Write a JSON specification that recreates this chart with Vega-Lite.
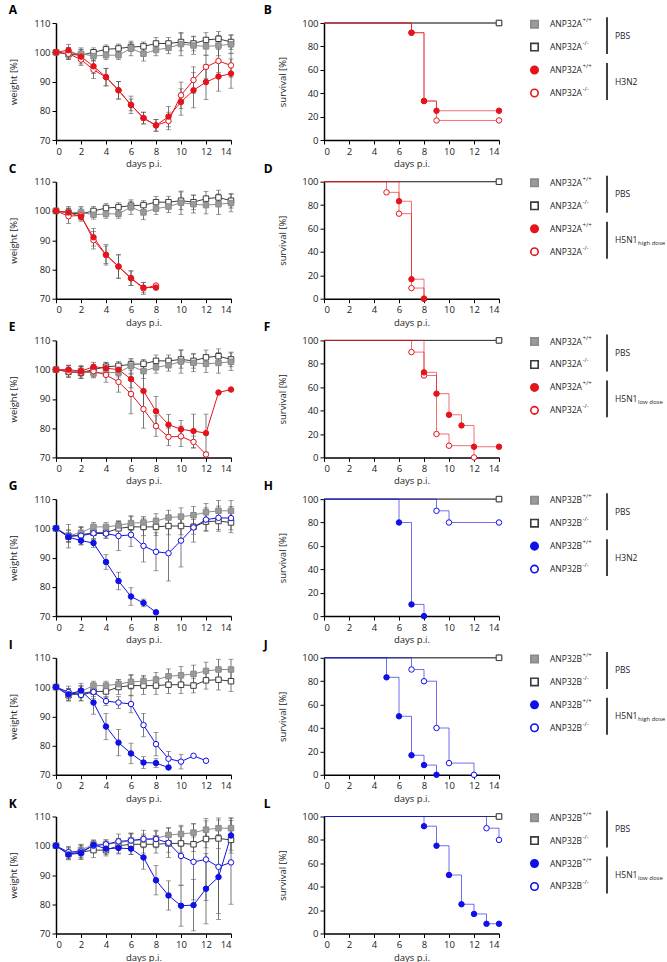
{
"$schema":"https://vega.github.io/schema/vega-lite/v6.json",
"background":"white",
"padding":{"left":8,"top":2,"right":0,"bottom":0},
"spacing":-7.3,
"config":{
 "view":{"stroke":null},
 "font":"Open Sans",
 "text":{"font":"Open Sans"},
 "axis":{"grid":false,"domainColor":"#000","domainWidth":1.5,"tickColor":"#000","tickWidth":1,"tickSize":4,"labelFont":"Open Sans","labelFontSize":9.5,"labelColor":"#222","labelPadding":2,"titleFont":"Open Sans","titleFontSize":9.5,"titleFontWeight":"normal","titleColor":"#222","titlePadding":3},
 "title":{"fontSize":12,"fontWeight":"bold","anchor":"start","frame":"bounds","offset":1,"color":"#000","font":"Open Sans"}
},
"datasets":{
"wt":[
{"p":"pa","s":"pk","d":0,"w":100,"e":0},{"p":"pa","s":"pk","d":1,"w":99.3,"e":1.5},{"p":"pa","s":"pk","d":2,"w":99,"e":2},{"p":"pa","s":"pk","d":3,"w":100,"e":1.5},{"p":"pa","s":"pk","d":4,"w":101,"e":1.5},{"p":"pa","s":"pk","d":5,"w":101.3,"e":1.5},{"p":"pa","s":"pk","d":6,"w":101.8,"e":1.5},{"p":"pa","s":"pk","d":7,"w":102,"e":1.5},{"p":"pa","s":"pk","d":8,"w":103,"e":2},{"p":"pa","s":"pk","d":9,"w":103,"e":2},{"p":"pa","s":"pk","d":10,"w":103.5,"e":3},{"p":"pa","s":"pk","d":11,"w":103,"e":2.5},{"p":"pa","s":"pk","d":12,"w":104.2,"e":2.5},{"p":"pa","s":"pk","d":13,"w":104.6,"e":2.5},{"p":"pa","s":"pk","d":14,"w":103.5,"e":2.5},
{"p":"pa","s":"pw","d":0,"w":100,"e":0},{"p":"pa","s":"pw","d":1,"w":99.5,"e":2},{"p":"pa","s":"pw","d":2,"w":99.5,"e":2},{"p":"pa","s":"pw","d":3,"w":98.7,"e":1.5},{"p":"pa","s":"pw","d":4,"w":99,"e":1.5},{"p":"pa","s":"pw","d":5,"w":99,"e":1.5},{"p":"pa","s":"pw","d":6,"w":101.3,"e":2.5},{"p":"pa","s":"pw","d":7,"w":99.5,"e":2.5},{"p":"pa","s":"pw","d":8,"w":100.8,"e":2},{"p":"pa","s":"pw","d":9,"w":101.5,"e":2},{"p":"pa","s":"pw","d":10,"w":102.8,"e":4},{"p":"pa","s":"pw","d":11,"w":102.3,"e":3},{"p":"pa","s":"pw","d":12,"w":102,"e":3},{"p":"pa","s":"pw","d":13,"w":102.3,"e":3.5},{"p":"pa","s":"pw","d":14,"w":102.7,"e":3},
{"p":"pb","s":"pk","d":0,"w":100,"e":0},{"p":"pb","s":"pk","d":1,"w":97.2,"e":2},{"p":"pb","s":"pk","d":2,"w":97.8,"e":2.5},{"p":"pb","s":"pk","d":3,"w":98.5,"e":2.5},{"p":"pb","s":"pk","d":4,"w":98.5,"e":2},{"p":"pb","s":"pk","d":5,"w":100,"e":2.5},{"p":"pb","s":"pk","d":6,"w":100.5,"e":3.5},{"p":"pb","s":"pk","d":7,"w":100.5,"e":3},{"p":"pb","s":"pk","d":8,"w":100.5,"e":3},{"p":"pb","s":"pk","d":9,"w":100.8,"e":3},{"p":"pb","s":"pk","d":10,"w":100.8,"e":3},{"p":"pb","s":"pk","d":11,"w":100.5,"e":2.5},{"p":"pb","s":"pk","d":12,"w":102.3,"e":3},{"p":"pb","s":"pk","d":13,"w":102.5,"e":3.5},{"p":"pb","s":"pk","d":14,"w":102,"e":3.5},
{"p":"pb","s":"pw","d":0,"w":100,"e":0},{"p":"pb","s":"pw","d":1,"w":97.5,"e":2},{"p":"pb","s":"pw","d":2,"w":98.5,"e":2},{"p":"pb","s":"pw","d":3,"w":100.5,"e":1.5},{"p":"pb","s":"pw","d":4,"w":100.5,"e":1.5},{"p":"pb","s":"pw","d":5,"w":101,"e":1.5},{"p":"pb","s":"pw","d":6,"w":101.8,"e":2.5},{"p":"pb","s":"pw","d":7,"w":102,"e":2},{"p":"pb","s":"pw","d":8,"w":102.5,"e":2.5},{"p":"pb","s":"pw","d":9,"w":103.7,"e":2.5},{"p":"pb","s":"pw","d":10,"w":104,"e":3},{"p":"pb","s":"pw","d":11,"w":104.5,"e":3},{"p":"pb","s":"pw","d":12,"w":105.5,"e":3},{"p":"pb","s":"pw","d":13,"w":106,"e":3.5},{"p":"pb","s":"pw","d":14,"w":106,"e":3.5},
{"p":"A","s":"ak","d":0,"w":100,"e":0},{"p":"A","s":"ak","d":1,"w":99.5,"e":2},{"p":"A","s":"ak","d":2,"w":97.5,"e":2},{"p":"A","s":"ak","d":3,"w":94,"e":3},{"p":"A","s":"ak","d":4,"w":91.5,"e":3},{"p":"A","s":"ak","d":5,"w":87,"e":3},{"p":"A","s":"ak","d":6,"w":82,"e":2},{"p":"A","s":"ak","d":7,"w":77.5,"e":2},{"p":"A","s":"ak","d":8,"w":75,"e":2},{"p":"A","s":"ak","d":9,"w":76.5,"e":3},{"p":"A","s":"ak","d":10,"w":85.3,"e":4.5},{"p":"A","s":"ak","d":11,"w":90.5,"e":4.5},{"p":"A","s":"ak","d":12,"w":95,"e":4},{"p":"A","s":"ak","d":13,"w":97,"e":4},{"p":"A","s":"ak","d":14,"w":95.5,"e":4},
{"p":"A","s":"aw","d":0,"w":100,"e":0},{"p":"A","s":"aw","d":1,"w":100.7,"e":2},{"p":"A","s":"aw","d":2,"w":98.5,"e":2.5},{"p":"A","s":"aw","d":3,"w":95.2,"e":2.5},{"p":"A","s":"aw","d":4,"w":91.5,"e":3},{"p":"A","s":"aw","d":5,"w":87,"e":3},{"p":"A","s":"aw","d":6,"w":82,"e":3},{"p":"A","s":"aw","d":7,"w":77.5,"e":2},{"p":"A","s":"aw","d":8,"w":75,"e":2},{"p":"A","s":"aw","d":9,"w":78,"e":3.5},{"p":"A","s":"aw","d":10,"w":83,"e":4.5},{"p":"A","s":"aw","d":11,"w":87,"e":6},{"p":"A","s":"aw","d":12,"w":89.8,"e":6},{"p":"A","s":"aw","d":13,"w":91.7,"e":5},{"p":"A","s":"aw","d":14,"w":92.7,"e":5},
{"p":"C","s":"ak","d":0,"w":100,"e":0},{"p":"C","s":"ak","d":1,"w":98.2,"e":2.5},{"p":"C","s":"ak","d":2,"w":98.5,"e":1.5},{"p":"C","s":"ak","d":3,"w":90,"e":3},{"p":"C","s":"ak","d":4,"w":85,"e":3},{"p":"C","s":"ak","d":5,"w":81,"e":4},{"p":"C","s":"ak","d":6,"w":77,"e":2.5},{"p":"C","s":"ak","d":7,"w":73.5,"e":2},{"p":"C","s":"ak","d":8,"w":74.5,"e":0},
{"p":"C","s":"aw","d":0,"w":100,"e":0},{"p":"C","s":"aw","d":1,"w":99.5,"e":1.5},{"p":"C","s":"aw","d":2,"w":98,"e":1.5},{"p":"C","s":"aw","d":3,"w":91,"e":3},{"p":"C","s":"aw","d":4,"w":85,"e":3.5},{"p":"C","s":"aw","d":5,"w":81,"e":4},{"p":"C","s":"aw","d":6,"w":77,"e":2.5},{"p":"C","s":"aw","d":7,"w":73.8,"e":1.8},{"p":"C","s":"aw","d":8,"w":73.8,"e":0.8},
{"p":"E","s":"ak","d":0,"w":100,"e":0},{"p":"E","s":"ak","d":1,"w":99.3,"e":2},{"p":"E","s":"ak","d":2,"w":99,"e":2},{"p":"E","s":"ak","d":3,"w":99.5,"e":2},{"p":"E","s":"ak","d":4,"w":98.2,"e":2.5},{"p":"E","s":"ak","d":5,"w":95.8,"e":3.5},{"p":"E","s":"ak","d":6,"w":91.7,"e":6.8},{"p":"E","s":"ak","d":7,"w":86.5,"e":6.5},{"p":"E","s":"ak","d":8,"w":80.7,"e":3.5},{"p":"E","s":"ak","d":9,"w":77,"e":3},{"p":"E","s":"ak","d":10,"w":77.2,"e":3.5},{"p":"E","s":"ak","d":11,"w":75.3,"e":2},{"p":"E","s":"ak","d":12,"w":71,"e":0.5},
{"p":"E","s":"aw","d":0,"w":100,"e":0},{"p":"E","s":"aw","d":1,"w":100,"e":1.5},{"p":"E","s":"aw","d":2,"w":99.5,"e":1.5},{"p":"E","s":"aw","d":3,"w":101,"e":1.5},{"p":"E","s":"aw","d":4,"w":100.5,"e":2},{"p":"E","s":"aw","d":5,"w":100,"e":2},{"p":"E","s":"aw","d":6,"w":96.8,"e":3},{"p":"E","s":"aw","d":7,"w":92.7,"e":6},{"p":"E","s":"aw","d":8,"w":85.8,"e":5},{"p":"E","s":"aw","d":9,"w":81.2,"e":3.5},{"p":"E","s":"aw","d":10,"w":79.6,"e":3},{"p":"E","s":"aw","d":11,"w":79,"e":5.8},{"p":"E","s":"aw","d":12,"w":78.3,"e":6.5},{"p":"E","s":"aw","d":13,"w":92.2,"e":0},{"p":"E","s":"aw","d":14,"w":93.2,"e":0},
{"p":"G","s":"bk","d":0,"w":100,"e":0},{"p":"G","s":"bk","d":1,"w":97.3,"e":4},{"p":"G","s":"bk","d":2,"w":97.5,"e":3},{"p":"G","s":"bk","d":3,"w":98.3,"e":2},{"p":"G","s":"bk","d":4,"w":98.2,"e":1.5},{"p":"G","s":"bk","d":5,"w":97.4,"e":5},{"p":"G","s":"bk","d":6,"w":97.8,"e":4},{"p":"G","s":"bk","d":7,"w":94,"e":5.5},{"p":"G","s":"bk","d":8,"w":92,"e":6.5},{"p":"G","s":"bk","d":9,"w":91.5,"e":9.5},{"p":"G","s":"bk","d":10,"w":95.8,"e":9},{"p":"G","s":"bk","d":11,"w":100.3,"e":5},{"p":"G","s":"bk","d":12,"w":103,"e":4},{"p":"G","s":"bk","d":13,"w":103.6,"e":4},{"p":"G","s":"bk","d":14,"w":103.5,"e":4},
{"p":"G","s":"bw","d":0,"w":100,"e":0},{"p":"G","s":"bw","d":1,"w":97,"e":1.5},{"p":"G","s":"bw","d":2,"w":95.8,"e":1.5},{"p":"G","s":"bw","d":3,"w":95,"e":1.5},{"p":"G","s":"bw","d":4,"w":88.5,"e":2.5},{"p":"G","s":"bw","d":5,"w":82,"e":3},{"p":"G","s":"bw","d":6,"w":76.7,"e":3},{"p":"G","s":"bw","d":7,"w":74.5,"e":1.3},{"p":"G","s":"bw","d":8,"w":71.3,"e":0},
{"p":"I","s":"bk","d":0,"w":100,"e":0},{"p":"I","s":"bk","d":1,"w":98.3,"e":2},{"p":"I","s":"bk","d":2,"w":97.3,"e":2},{"p":"I","s":"bk","d":3,"w":98.3,"e":1.5},{"p":"I","s":"bk","d":4,"w":95.2,"e":1.5},{"p":"I","s":"bk","d":5,"w":94.7,"e":2},{"p":"I","s":"bk","d":6,"w":94.2,"e":3},{"p":"I","s":"bk","d":7,"w":87,"e":4},{"p":"I","s":"bk","d":8,"w":80.5,"e":4},{"p":"I","s":"bk","d":9,"w":75.5,"e":2.5},{"p":"I","s":"bk","d":10,"w":74.5,"e":2.5},{"p":"I","s":"bk","d":11,"w":76.5,"e":0},{"p":"I","s":"bk","d":12,"w":74.8,"e":0},
{"p":"I","s":"bw","d":0,"w":100,"e":0},{"p":"I","s":"bw","d":1,"w":97.5,"e":2},{"p":"I","s":"bw","d":2,"w":98.8,"e":2.5},{"p":"I","s":"bw","d":3,"w":94.7,"e":4},{"p":"I","s":"bw","d":4,"w":86.5,"e":4.5},{"p":"I","s":"bw","d":5,"w":81,"e":4.5},{"p":"I","s":"bw","d":6,"w":77.3,"e":3.5},{"p":"I","s":"bw","d":7,"w":74.2,"e":2},{"p":"I","s":"bw","d":8,"w":74,"e":1.5},{"p":"I","s":"bw","d":9,"w":72.5,"e":0},
{"p":"K","s":"bk","d":0,"w":100,"e":0},{"p":"K","s":"bk","d":1,"w":97.8,"e":2},{"p":"K","s":"bk","d":2,"w":98,"e":2},{"p":"K","s":"bk","d":3,"w":100,"e":1.5},{"p":"K","s":"bk","d":4,"w":100.5,"e":1.5},{"p":"K","s":"bk","d":5,"w":101.5,"e":2.5},{"p":"K","s":"bk","d":6,"w":101.8,"e":2.5},{"p":"K","s":"bk","d":7,"w":102.3,"e":3},{"p":"K","s":"bk","d":8,"w":102.3,"e":3},{"p":"K","s":"bk","d":9,"w":101,"e":5},{"p":"K","s":"bk","d":10,"w":96.5,"e":10},{"p":"K","s":"bk","d":11,"w":94.5,"e":13},{"p":"K","s":"bk","d":12,"w":95.3,"e":14},{"p":"K","s":"bk","d":13,"w":92.8,"e":16},{"p":"K","s":"bk","d":14,"w":94.3,"e":14.3},
{"p":"K","s":"bw","d":0,"w":100,"e":0},{"p":"K","s":"bw","d":1,"w":97,"e":1.5},{"p":"K","s":"bw","d":2,"w":97.5,"e":2},{"p":"K","s":"bw","d":3,"w":100.3,"e":1.5},{"p":"K","s":"bw","d":4,"w":99,"e":2},{"p":"K","s":"bw","d":5,"w":99.2,"e":2},{"p":"K","s":"bw","d":6,"w":99,"e":2},{"p":"K","s":"bw","d":7,"w":96,"e":4},{"p":"K","s":"bw","d":8,"w":88.2,"e":5},{"p":"K","s":"bw","d":9,"w":83,"e":5},{"p":"K","s":"bw","d":10,"w":79.5,"e":7},{"p":"K","s":"bw","d":11,"w":79.7,"e":8.8},{"p":"K","s":"bw","d":12,"w":85.3,"e":12},{"p":"K","s":"bw","d":13,"w":89.3,"e":14.5},{"p":"K","s":"bw","d":14,"w":103.5,"e":6}
],
"sv":[
{"p":"ps","s":"pw","d":0,"v":100},{"p":"ps","s":"pw","d":14,"v":100},{"p":"ps","s":"pk","d":0,"v":100},{"p":"ps","s":"pk","d":14,"v":100},
{"p":"B","s":"ak","d":0,"v":100},{"p":"B","s":"ak","d":7,"v":91.7},{"p":"B","s":"ak","d":8,"v":33.3},{"p":"B","s":"ak","d":9,"v":16.7},{"p":"B","s":"ak","d":14,"v":16.7},
{"p":"B","s":"aw","d":0,"v":100},{"p":"B","s":"aw","d":7,"v":91.7},{"p":"B","s":"aw","d":8,"v":33.3},{"p":"B","s":"aw","d":9,"v":25},{"p":"B","s":"aw","d":14,"v":25},
{"p":"D","s":"ak","d":0,"v":100},{"p":"D","s":"ak","d":5,"v":90.9},{"p":"D","s":"ak","d":6,"v":72.7},{"p":"D","s":"ak","d":7,"v":9.1},{"p":"D","s":"ak","d":8,"v":0},
{"p":"D","s":"aw","d":0,"v":100},{"p":"D","s":"aw","d":6,"v":83.3},{"p":"D","s":"aw","d":7,"v":16.7},{"p":"D","s":"aw","d":8,"v":0},
{"p":"F","s":"ak","d":0,"v":100},{"p":"F","s":"ak","d":7,"v":90},{"p":"F","s":"ak","d":8,"v":70},{"p":"F","s":"ak","d":9,"v":20},{"p":"F","s":"ak","d":10,"v":10},{"p":"F","s":"ak","d":12,"v":0},
{"p":"F","s":"aw","d":0,"v":100},{"p":"F","s":"aw","d":8,"v":72.7},{"p":"F","s":"aw","d":9,"v":54.5},{"p":"F","s":"aw","d":10,"v":36.4},{"p":"F","s":"aw","d":11,"v":27.3},{"p":"F","s":"aw","d":12,"v":9.1},{"p":"F","s":"aw","d":14,"v":9.1},
{"p":"H","s":"bk","d":0,"v":100},{"p":"H","s":"bk","d":9,"v":90},{"p":"H","s":"bk","d":10,"v":80},{"p":"H","s":"bk","d":14,"v":80},
{"p":"H","s":"bw","d":0,"v":100},{"p":"H","s":"bw","d":6,"v":80},{"p":"H","s":"bw","d":7,"v":10},{"p":"H","s":"bw","d":8,"v":0},
{"p":"J","s":"bk","d":0,"v":100},{"p":"J","s":"bk","d":7,"v":90},{"p":"J","s":"bk","d":8,"v":80},{"p":"J","s":"bk","d":9,"v":40},{"p":"J","s":"bk","d":10,"v":10},{"p":"J","s":"bk","d":12,"v":0},
{"p":"J","s":"bw","d":0,"v":100},{"p":"J","s":"bw","d":5,"v":83.3},{"p":"J","s":"bw","d":6,"v":50},{"p":"J","s":"bw","d":7,"v":16.7},{"p":"J","s":"bw","d":8,"v":8.3},{"p":"J","s":"bw","d":9,"v":0},
{"p":"L","s":"bk","d":0,"v":100},{"p":"L","s":"bk","d":13,"v":90},{"p":"L","s":"bk","d":14,"v":80},
{"p":"L","s":"bw","d":0,"v":100},{"p":"L","s":"bw","d":8,"v":91.7},{"p":"L","s":"bw","d":9,"v":75},{"p":"L","s":"bw","d":10,"v":50},{"p":"L","s":"bw","d":11,"v":25},{"p":"L","s":"bw","d":12,"v":16.7},{"p":"L","s":"bw","d":13,"v":8.3},{"p":"L","s":"bw","d":14,"v":8.3}
],
"lg":[
{"p":"A","r":0,"s":"pw","g":"ANP32A","u":"+/+"},{"p":"A","r":1,"s":"pk","g":"ANP32A","u":"-/-"},{"p":"A","r":2,"s":"aw","g":"ANP32A","u":"+/+"},{"p":"A","r":3,"s":"ak","g":"ANP32A","u":"-/-"},
{"p":"C","r":0,"s":"pw","g":"ANP32A","u":"+/+"},{"p":"C","r":1,"s":"pk","g":"ANP32A","u":"-/-"},{"p":"C","r":2,"s":"aw","g":"ANP32A","u":"+/+"},{"p":"C","r":3,"s":"ak","g":"ANP32A","u":"-/-"},
{"p":"E","r":0,"s":"pw","g":"ANP32A","u":"+/+"},{"p":"E","r":1,"s":"pk","g":"ANP32A","u":"-/-"},{"p":"E","r":2,"s":"aw","g":"ANP32A","u":"+/+"},{"p":"E","r":3,"s":"ak","g":"ANP32A","u":"-/-"},
{"p":"G","r":0,"s":"pw","g":"ANP32B","u":"+/+"},{"p":"G","r":1,"s":"pk","g":"ANP32B","u":"-/-"},{"p":"G","r":2,"s":"bw","g":"ANP32B","u":"+/+"},{"p":"G","r":3,"s":"bk","g":"ANP32B","u":"-/-"},
{"p":"I","r":0,"s":"pw","g":"ANP32B","u":"+/+"},{"p":"I","r":1,"s":"pk","g":"ANP32B","u":"-/-"},{"p":"I","r":2,"s":"bw","g":"ANP32B","u":"+/+"},{"p":"I","r":3,"s":"bk","g":"ANP32B","u":"-/-"},
{"p":"K","r":0,"s":"pw","g":"ANP32B","u":"+/+"},{"p":"K","r":1,"s":"pk","g":"ANP32B","u":"-/-"},{"p":"K","r":2,"s":"bw","g":"ANP32B","u":"+/+"},{"p":"K","r":3,"s":"bk","g":"ANP32B","u":"-/-"}
],
"gp":[
{"p":"A","f":0,"l":1,"t":"PBS","u":""},{"p":"A","f":2,"l":3,"t":"H3N2","u":""},
{"p":"C","f":0,"l":1,"t":"PBS","u":""},{"p":"C","f":2,"l":3,"t":"H5N1","u":"high dose"},
{"p":"E","f":0,"l":1,"t":"PBS","u":""},{"p":"E","f":2,"l":3,"t":"H5N1","u":"low dose"},
{"p":"G","f":0,"l":1,"t":"PBS","u":""},{"p":"G","f":2,"l":3,"t":"H3N2","u":""},
{"p":"I","f":0,"l":1,"t":"PBS","u":""},{"p":"I","f":2,"l":3,"t":"H5N1","u":"high dose"},
{"p":"K","f":0,"l":1,"t":"PBS","u":""},{"p":"K","f":2,"l":3,"t":"H5N1","u":"low dose"}
]
},
"vconcat":[
{"spacing":27,"hconcat":[
 {"title":{"text":"A"},"width":175,"height":117,"data":{"name":"wt"},"transform":[{"filter":"datum.p==='A'||datum.p==='pa'"}],
  "encoding":{"x":{"field":"d","type":"quantitative","scale":{"domain":[0,14],"nice":false},"axis":{"values":[0,2,4,6,8,10,12,14],"title":"days p.i."}},"y":{"field":"w","type":"quantitative","scale":{"domain":[70,110],"nice":false,"zero":false},"axis":{"values":[70,80,90,100,110],"title":"weight [%]","titlePadding":15}}},
  "layer":[
   {"transform":[{"filter":"datum.e>0"}],"mark":{"type":"errorbar","ticks":{"size":5},"color":"#555","thickness":0.8},"encoding":{"yError":{"field":"e"}}},
   {"mark":{"type":"line","strokeWidth":1},"encoding":{"color":{"field":"s","type":"nominal","scale":{"domain":["pw","pk","aw","ak","bw","bk"],"range":["#8a8a8a","#3a3a3a","#e5141c","#e5141c","#1010e8","#1010e8"]},"legend":null}}},
   {"mark":{"type":"point","size":30,"opacity":1,"strokeWidth":1},"encoding":{"color":{"field":"s","type":"nominal","legend":null},"fill":{"field":"s","type":"nominal","scale":{"domain":["pw","pk","aw","ak","bw","bk"],"range":["#9a9a9a","#ffffff","#e5141c","#ffffff","#1010e8","#ffffff"]},"legend":null},"shape":{"field":"s","type":"nominal","scale":{"domain":["pw","pk","aw","ak","bw","bk"],"range":["square","square","circle","circle","circle","circle"]},"legend":null}}}
  ]},
 {"spacing":23,"hconcat":[
  {"title":{"text":"B","dx":-14},"width":175,"height":117,"data":{"name":"sv"},"transform":[{"filter":"datum.p==='B'||datum.p==='ps'"}],
   "encoding":{"x":{"field":"d","type":"quantitative","scale":{"domain":[0,14],"nice":false},"axis":{"values":[0,2,4,6,8,10,12,14],"title":"days p.i."}},"y":{"field":"v","type":"quantitative","scale":{"domain":[0,100],"nice":false},"axis":{"values":[0,20,40,60,80,100],"title":"survival [%]","titlePadding":14}},"color":{"field":"s","type":"nominal","legend":null}},
   "layer":[
    {"transform":[{"filter":"datum.p==='ps'"}],"mark":{"type":"line","interpolate":"step-after","strokeWidth":1}},
    {"transform":[{"filter":"datum.p!=='ps'"}],"mark":{"type":"line","interpolate":"step-after","strokeWidth":1,"opacity":0.6}},
    {"transform":[{"filter":"datum.d>0"}],"mark":{"type":"point","size":30,"opacity":1,"strokeWidth":1},"encoding":{"fill":{"field":"s","type":"nominal","legend":null},"shape":{"field":"s","type":"nominal","legend":null}}}
   ]},
  {"title":{"text":" "},"width":137,"height":117,
   "layer":[
    {"data":{"name":"lg"},"transform":[{"filter":"datum.p==='A'"}],"mark":{"type":"point","size":55,"opacity":1,"strokeWidth":1.6},"encoding":{"x":{"datum":0.55,"type":"quantitative","scale":{"domain":[0,13.7],"nice":false},"axis":null},"y":{"field":"r","type":"quantitative","scale":{"domain":[-0.05,5.05],"reverse":true,"nice":false,"zero":false},"axis":null},"color":{"field":"s","type":"nominal","legend":null},"fill":{"field":"s","type":"nominal","legend":null},"shape":{"field":"s","type":"nominal","legend":null}}},
    {"data":{"name":"lg"},"transform":[{"filter":"datum.p==='A'"}],"mark":{"type":"text","align":"left","baseline":"middle","fontSize":8.5,"color":"#222"},"encoding":{"x":{"datum":2.1,"type":"quantitative"},"y":{"field":"r","type":"quantitative"},"text":{"field":"g"}}},
    {"data":{"name":"lg"},"transform":[{"filter":"datum.p==='A'"}],"mark":{"type":"text","align":"left","baseline":"middle","fontSize":6,"color":"#222","dx":32.5,"dy":-4},"encoding":{"x":{"datum":2.1,"type":"quantitative"},"y":{"field":"r","type":"quantitative"},"text":{"field":"u"}}},
    {"data":{"name":"gp"},"transform":[{"filter":"datum.p==='A'"}],"mark":{"type":"rule","strokeWidth":1.5,"color":"#000","yOffset":-7,"y2Offset":7},"encoding":{"x":{"datum":7.8,"type":"quantitative"},"y":{"field":"f","type":"quantitative"},"y2":{"field":"l"}}},
    {"data":{"name":"gp"},"transform":[{"filter":"datum.p==='A'"}],"mark":{"type":"text","align":"left","baseline":"middle","fontSize":8.5,"color":"#222","dy":11.5},"encoding":{"x":{"datum":8.6,"type":"quantitative"},"y":{"field":"f","type":"quantitative"},"text":{"field":"t"}}},
    {"data":{"name":"gp"},"transform":[{"filter":"datum.p==='A'"}],"mark":{"type":"text","align":"left","baseline":"middle","fontSize":6,"color":"#222","dx":23,"dy":14.5},"encoding":{"x":{"datum":8.6,"type":"quantitative"},"y":{"field":"f","type":"quantitative"},"text":{"field":"u"}}}
   ]}
 ]}
]},
{"spacing":27,"hconcat":[
 {"title":{"text":"C"},"width":175,"height":117,"data":{"name":"wt"},"transform":[{"filter":"datum.p==='C'||datum.p==='pa'"}],
  "encoding":{"x":{"field":"d","type":"quantitative","scale":{"domain":[0,14],"nice":false},"axis":{"values":[0,2,4,6,8,10,12,14],"title":"days p.i."}},"y":{"field":"w","type":"quantitative","scale":{"domain":[70,110],"nice":false,"zero":false},"axis":{"values":[70,80,90,100,110],"title":"weight [%]","titlePadding":15}}},
  "layer":[
   {"transform":[{"filter":"datum.e>0"}],"mark":{"type":"errorbar","ticks":{"size":5},"color":"#555","thickness":0.8},"encoding":{"yError":{"field":"e"}}},
   {"mark":{"type":"line","strokeWidth":1},"encoding":{"color":{"field":"s","type":"nominal","legend":null}}},
   {"mark":{"type":"point","size":30,"opacity":1,"strokeWidth":1},"encoding":{"color":{"field":"s","type":"nominal","legend":null},"fill":{"field":"s","type":"nominal","legend":null},"shape":{"field":"s","type":"nominal","legend":null}}}
  ]},
 {"spacing":23,"hconcat":[
  {"title":{"text":"D","dx":-14},"width":175,"height":117,"data":{"name":"sv"},"transform":[{"filter":"datum.p==='D'||datum.p==='ps'"}],
   "encoding":{"x":{"field":"d","type":"quantitative","scale":{"domain":[0,14],"nice":false},"axis":{"values":[0,2,4,6,8,10,12,14],"title":"days p.i."}},"y":{"field":"v","type":"quantitative","scale":{"domain":[0,100],"nice":false},"axis":{"values":[0,20,40,60,80,100],"title":"survival [%]","titlePadding":14}},"color":{"field":"s","type":"nominal","legend":null}},
   "layer":[
    {"transform":[{"filter":"datum.p==='ps'"}],"mark":{"type":"line","interpolate":"step-after","strokeWidth":1}},
    {"transform":[{"filter":"datum.p!=='ps'"}],"mark":{"type":"line","interpolate":"step-after","strokeWidth":1,"opacity":0.6}},
    {"transform":[{"filter":"datum.d>0"}],"mark":{"type":"point","size":30,"opacity":1,"strokeWidth":1},"encoding":{"fill":{"field":"s","type":"nominal","legend":null},"shape":{"field":"s","type":"nominal","legend":null}}}
   ]},
  {"title":{"text":" "},"width":137,"height":117,
   "layer":[
    {"data":{"name":"lg"},"transform":[{"filter":"datum.p==='C'"}],"mark":{"type":"point","size":55,"opacity":1,"strokeWidth":1.6},"encoding":{"x":{"datum":0.55,"type":"quantitative","scale":{"domain":[0,13.7],"nice":false},"axis":null},"y":{"field":"r","type":"quantitative","scale":{"domain":[-0.05,5.05],"reverse":true,"nice":false,"zero":false},"axis":null},"color":{"field":"s","type":"nominal","legend":null},"fill":{"field":"s","type":"nominal","legend":null},"shape":{"field":"s","type":"nominal","legend":null}}},
    {"data":{"name":"lg"},"transform":[{"filter":"datum.p==='C'"}],"mark":{"type":"text","align":"left","baseline":"middle","fontSize":8.5,"color":"#222"},"encoding":{"x":{"datum":2.1,"type":"quantitative"},"y":{"field":"r","type":"quantitative"},"text":{"field":"g"}}},
    {"data":{"name":"lg"},"transform":[{"filter":"datum.p==='C'"}],"mark":{"type":"text","align":"left","baseline":"middle","fontSize":6,"color":"#222","dx":32.5,"dy":-4},"encoding":{"x":{"datum":2.1,"type":"quantitative"},"y":{"field":"r","type":"quantitative"},"text":{"field":"u"}}},
    {"data":{"name":"gp"},"transform":[{"filter":"datum.p==='C'"}],"mark":{"type":"rule","strokeWidth":1.5,"color":"#000","yOffset":-7,"y2Offset":7},"encoding":{"x":{"datum":7.8,"type":"quantitative"},"y":{"field":"f","type":"quantitative"},"y2":{"field":"l"}}},
    {"data":{"name":"gp"},"transform":[{"filter":"datum.p==='C'"}],"mark":{"type":"text","align":"left","baseline":"middle","fontSize":8.5,"color":"#222","dy":11.5},"encoding":{"x":{"datum":8.6,"type":"quantitative"},"y":{"field":"f","type":"quantitative"},"text":{"field":"t"}}},
    {"data":{"name":"gp"},"transform":[{"filter":"datum.p==='C'"}],"mark":{"type":"text","align":"left","baseline":"middle","fontSize":6,"color":"#222","dx":23,"dy":14.5},"encoding":{"x":{"datum":8.6,"type":"quantitative"},"y":{"field":"f","type":"quantitative"},"text":{"field":"u"}}}
   ]}
 ]}
]},
{"spacing":27,"hconcat":[
 {"title":{"text":"E"},"width":175,"height":117,"data":{"name":"wt"},"transform":[{"filter":"datum.p==='E'||datum.p==='pa'"}],
  "encoding":{"x":{"field":"d","type":"quantitative","scale":{"domain":[0,14],"nice":false},"axis":{"values":[0,2,4,6,8,10,12,14],"title":"days p.i."}},"y":{"field":"w","type":"quantitative","scale":{"domain":[70,110],"nice":false,"zero":false},"axis":{"values":[70,80,90,100,110],"title":"weight [%]","titlePadding":15}}},
  "layer":[
   {"transform":[{"filter":"datum.e>0"}],"mark":{"type":"errorbar","ticks":{"size":5},"color":"#555","thickness":0.8},"encoding":{"yError":{"field":"e"}}},
   {"mark":{"type":"line","strokeWidth":1},"encoding":{"color":{"field":"s","type":"nominal","legend":null}}},
   {"mark":{"type":"point","size":30,"opacity":1,"strokeWidth":1},"encoding":{"color":{"field":"s","type":"nominal","legend":null},"fill":{"field":"s","type":"nominal","legend":null},"shape":{"field":"s","type":"nominal","legend":null}}}
  ]},
 {"spacing":23,"hconcat":[
  {"title":{"text":"F","dx":-14},"width":175,"height":117,"data":{"name":"sv"},"transform":[{"filter":"datum.p==='F'||datum.p==='ps'"}],
   "encoding":{"x":{"field":"d","type":"quantitative","scale":{"domain":[0,14],"nice":false},"axis":{"values":[0,2,4,6,8,10,12,14],"title":"days p.i."}},"y":{"field":"v","type":"quantitative","scale":{"domain":[0,100],"nice":false},"axis":{"values":[0,20,40,60,80,100],"title":"survival [%]","titlePadding":14}},"color":{"field":"s","type":"nominal","legend":null}},
   "layer":[
    {"transform":[{"filter":"datum.p==='ps'"}],"mark":{"type":"line","interpolate":"step-after","strokeWidth":1}},
    {"transform":[{"filter":"datum.p!=='ps'"}],"mark":{"type":"line","interpolate":"step-after","strokeWidth":1,"opacity":0.6}},
    {"transform":[{"filter":"datum.d>0"}],"mark":{"type":"point","size":30,"opacity":1,"strokeWidth":1},"encoding":{"fill":{"field":"s","type":"nominal","legend":null},"shape":{"field":"s","type":"nominal","legend":null}}}
   ]},
  {"title":{"text":" "},"width":137,"height":117,
   "layer":[
    {"data":{"name":"lg"},"transform":[{"filter":"datum.p==='E'"}],"mark":{"type":"point","size":55,"opacity":1,"strokeWidth":1.6},"encoding":{"x":{"datum":0.55,"type":"quantitative","scale":{"domain":[0,13.7],"nice":false},"axis":null},"y":{"field":"r","type":"quantitative","scale":{"domain":[-0.05,5.05],"reverse":true,"nice":false,"zero":false},"axis":null},"color":{"field":"s","type":"nominal","legend":null},"fill":{"field":"s","type":"nominal","legend":null},"shape":{"field":"s","type":"nominal","legend":null}}},
    {"data":{"name":"lg"},"transform":[{"filter":"datum.p==='E'"}],"mark":{"type":"text","align":"left","baseline":"middle","fontSize":8.5,"color":"#222"},"encoding":{"x":{"datum":2.1,"type":"quantitative"},"y":{"field":"r","type":"quantitative"},"text":{"field":"g"}}},
    {"data":{"name":"lg"},"transform":[{"filter":"datum.p==='E'"}],"mark":{"type":"text","align":"left","baseline":"middle","fontSize":6,"color":"#222","dx":32.5,"dy":-4},"encoding":{"x":{"datum":2.1,"type":"quantitative"},"y":{"field":"r","type":"quantitative"},"text":{"field":"u"}}},
    {"data":{"name":"gp"},"transform":[{"filter":"datum.p==='E'"}],"mark":{"type":"rule","strokeWidth":1.5,"color":"#000","yOffset":-7,"y2Offset":7},"encoding":{"x":{"datum":7.8,"type":"quantitative"},"y":{"field":"f","type":"quantitative"},"y2":{"field":"l"}}},
    {"data":{"name":"gp"},"transform":[{"filter":"datum.p==='E'"}],"mark":{"type":"text","align":"left","baseline":"middle","fontSize":8.5,"color":"#222","dy":11.5},"encoding":{"x":{"datum":8.6,"type":"quantitative"},"y":{"field":"f","type":"quantitative"},"text":{"field":"t"}}},
    {"data":{"name":"gp"},"transform":[{"filter":"datum.p==='E'"}],"mark":{"type":"text","align":"left","baseline":"middle","fontSize":6,"color":"#222","dx":23,"dy":14.5},"encoding":{"x":{"datum":8.6,"type":"quantitative"},"y":{"field":"f","type":"quantitative"},"text":{"field":"u"}}}
   ]}
 ]}
]},
{"spacing":27,"hconcat":[
 {"title":{"text":"G"},"width":175,"height":117,"data":{"name":"wt"},"transform":[{"filter":"datum.p==='G'||datum.p==='pb'"}],
  "encoding":{"x":{"field":"d","type":"quantitative","scale":{"domain":[0,14],"nice":false},"axis":{"values":[0,2,4,6,8,10,12,14],"title":"days p.i."}},"y":{"field":"w","type":"quantitative","scale":{"domain":[70,110],"nice":false,"zero":false},"axis":{"values":[70,80,90,100,110],"title":"weight [%]","titlePadding":15}}},
  "layer":[
   {"transform":[{"filter":"datum.e>0"}],"mark":{"type":"errorbar","ticks":{"size":5},"color":"#555","thickness":0.8},"encoding":{"yError":{"field":"e"}}},
   {"mark":{"type":"line","strokeWidth":1},"encoding":{"color":{"field":"s","type":"nominal","legend":null}}},
   {"mark":{"type":"point","size":30,"opacity":1,"strokeWidth":1},"encoding":{"color":{"field":"s","type":"nominal","legend":null},"fill":{"field":"s","type":"nominal","legend":null},"shape":{"field":"s","type":"nominal","legend":null}}}
  ]},
 {"spacing":23,"hconcat":[
  {"title":{"text":"H","dx":-14},"width":175,"height":117,"data":{"name":"sv"},"transform":[{"filter":"datum.p==='H'||datum.p==='ps'"}],
   "encoding":{"x":{"field":"d","type":"quantitative","scale":{"domain":[0,14],"nice":false},"axis":{"values":[0,2,4,6,8,10,12,14],"title":"days p.i."}},"y":{"field":"v","type":"quantitative","scale":{"domain":[0,100],"nice":false},"axis":{"values":[0,20,40,60,80,100],"title":"survival [%]","titlePadding":14}},"color":{"field":"s","type":"nominal","legend":null}},
   "layer":[
    {"transform":[{"filter":"datum.p==='ps'"}],"mark":{"type":"line","interpolate":"step-after","strokeWidth":1}},
    {"transform":[{"filter":"datum.p!=='ps'"}],"mark":{"type":"line","interpolate":"step-after","strokeWidth":1,"opacity":0.6}},
    {"transform":[{"filter":"datum.d>0"}],"mark":{"type":"point","size":30,"opacity":1,"strokeWidth":1},"encoding":{"fill":{"field":"s","type":"nominal","legend":null},"shape":{"field":"s","type":"nominal","legend":null}}}
   ]},
  {"title":{"text":" "},"width":137,"height":117,
   "layer":[
    {"data":{"name":"lg"},"transform":[{"filter":"datum.p==='G'"}],"mark":{"type":"point","size":55,"opacity":1,"strokeWidth":1.6},"encoding":{"x":{"datum":0.55,"type":"quantitative","scale":{"domain":[0,13.7],"nice":false},"axis":null},"y":{"field":"r","type":"quantitative","scale":{"domain":[-0.05,5.05],"reverse":true,"nice":false,"zero":false},"axis":null},"color":{"field":"s","type":"nominal","legend":null},"fill":{"field":"s","type":"nominal","legend":null},"shape":{"field":"s","type":"nominal","legend":null}}},
    {"data":{"name":"lg"},"transform":[{"filter":"datum.p==='G'"}],"mark":{"type":"text","align":"left","baseline":"middle","fontSize":8.5,"color":"#222"},"encoding":{"x":{"datum":2.1,"type":"quantitative"},"y":{"field":"r","type":"quantitative"},"text":{"field":"g"}}},
    {"data":{"name":"lg"},"transform":[{"filter":"datum.p==='G'"}],"mark":{"type":"text","align":"left","baseline":"middle","fontSize":6,"color":"#222","dx":32.5,"dy":-4},"encoding":{"x":{"datum":2.1,"type":"quantitative"},"y":{"field":"r","type":"quantitative"},"text":{"field":"u"}}},
    {"data":{"name":"gp"},"transform":[{"filter":"datum.p==='G'"}],"mark":{"type":"rule","strokeWidth":1.5,"color":"#000","yOffset":-7,"y2Offset":7},"encoding":{"x":{"datum":7.8,"type":"quantitative"},"y":{"field":"f","type":"quantitative"},"y2":{"field":"l"}}},
    {"data":{"name":"gp"},"transform":[{"filter":"datum.p==='G'"}],"mark":{"type":"text","align":"left","baseline":"middle","fontSize":8.5,"color":"#222","dy":11.5},"encoding":{"x":{"datum":8.6,"type":"quantitative"},"y":{"field":"f","type":"quantitative"},"text":{"field":"t"}}},
    {"data":{"name":"gp"},"transform":[{"filter":"datum.p==='G'"}],"mark":{"type":"text","align":"left","baseline":"middle","fontSize":6,"color":"#222","dx":23,"dy":14.5},"encoding":{"x":{"datum":8.6,"type":"quantitative"},"y":{"field":"f","type":"quantitative"},"text":{"field":"u"}}}
   ]}
 ]}
]},
{"spacing":27,"hconcat":[
 {"title":{"text":"I"},"width":175,"height":117,"data":{"name":"wt"},"transform":[{"filter":"datum.p==='I'||datum.p==='pb'"}],
  "encoding":{"x":{"field":"d","type":"quantitative","scale":{"domain":[0,14],"nice":false},"axis":{"values":[0,2,4,6,8,10,12,14],"title":"days p.i."}},"y":{"field":"w","type":"quantitative","scale":{"domain":[70,110],"nice":false,"zero":false},"axis":{"values":[70,80,90,100,110],"title":"weight [%]","titlePadding":15}}},
  "layer":[
   {"transform":[{"filter":"datum.e>0"}],"mark":{"type":"errorbar","ticks":{"size":5},"color":"#555","thickness":0.8},"encoding":{"yError":{"field":"e"}}},
   {"mark":{"type":"line","strokeWidth":1},"encoding":{"color":{"field":"s","type":"nominal","legend":null}}},
   {"mark":{"type":"point","size":30,"opacity":1,"strokeWidth":1},"encoding":{"color":{"field":"s","type":"nominal","legend":null},"fill":{"field":"s","type":"nominal","legend":null},"shape":{"field":"s","type":"nominal","legend":null}}}
  ]},
 {"spacing":23,"hconcat":[
  {"title":{"text":"J","dx":-14},"width":175,"height":117,"data":{"name":"sv"},"transform":[{"filter":"datum.p==='J'||datum.p==='ps'"}],
   "encoding":{"x":{"field":"d","type":"quantitative","scale":{"domain":[0,14],"nice":false},"axis":{"values":[0,2,4,6,8,10,12,14],"title":"days p.i."}},"y":{"field":"v","type":"quantitative","scale":{"domain":[0,100],"nice":false},"axis":{"values":[0,20,40,60,80,100],"title":"survival [%]","titlePadding":14}},"color":{"field":"s","type":"nominal","legend":null}},
   "layer":[
    {"transform":[{"filter":"datum.p==='ps'"}],"mark":{"type":"line","interpolate":"step-after","strokeWidth":1}},
    {"transform":[{"filter":"datum.p!=='ps'"}],"mark":{"type":"line","interpolate":"step-after","strokeWidth":1,"opacity":0.6}},
    {"transform":[{"filter":"datum.d>0"}],"mark":{"type":"point","size":30,"opacity":1,"strokeWidth":1},"encoding":{"fill":{"field":"s","type":"nominal","legend":null},"shape":{"field":"s","type":"nominal","legend":null}}}
   ]},
  {"title":{"text":" "},"width":137,"height":117,
   "layer":[
    {"data":{"name":"lg"},"transform":[{"filter":"datum.p==='I'"}],"mark":{"type":"point","size":55,"opacity":1,"strokeWidth":1.6},"encoding":{"x":{"datum":0.55,"type":"quantitative","scale":{"domain":[0,13.7],"nice":false},"axis":null},"y":{"field":"r","type":"quantitative","scale":{"domain":[-0.05,5.05],"reverse":true,"nice":false,"zero":false},"axis":null},"color":{"field":"s","type":"nominal","legend":null},"fill":{"field":"s","type":"nominal","legend":null},"shape":{"field":"s","type":"nominal","legend":null}}},
    {"data":{"name":"lg"},"transform":[{"filter":"datum.p==='I'"}],"mark":{"type":"text","align":"left","baseline":"middle","fontSize":8.5,"color":"#222"},"encoding":{"x":{"datum":2.1,"type":"quantitative"},"y":{"field":"r","type":"quantitative"},"text":{"field":"g"}}},
    {"data":{"name":"lg"},"transform":[{"filter":"datum.p==='I'"}],"mark":{"type":"text","align":"left","baseline":"middle","fontSize":6,"color":"#222","dx":32.5,"dy":-4},"encoding":{"x":{"datum":2.1,"type":"quantitative"},"y":{"field":"r","type":"quantitative"},"text":{"field":"u"}}},
    {"data":{"name":"gp"},"transform":[{"filter":"datum.p==='I'"}],"mark":{"type":"rule","strokeWidth":1.5,"color":"#000","yOffset":-7,"y2Offset":7},"encoding":{"x":{"datum":7.8,"type":"quantitative"},"y":{"field":"f","type":"quantitative"},"y2":{"field":"l"}}},
    {"data":{"name":"gp"},"transform":[{"filter":"datum.p==='I'"}],"mark":{"type":"text","align":"left","baseline":"middle","fontSize":8.5,"color":"#222","dy":11.5},"encoding":{"x":{"datum":8.6,"type":"quantitative"},"y":{"field":"f","type":"quantitative"},"text":{"field":"t"}}},
    {"data":{"name":"gp"},"transform":[{"filter":"datum.p==='I'"}],"mark":{"type":"text","align":"left","baseline":"middle","fontSize":6,"color":"#222","dx":23,"dy":14.5},"encoding":{"x":{"datum":8.6,"type":"quantitative"},"y":{"field":"f","type":"quantitative"},"text":{"field":"u"}}}
   ]}
 ]}
]},
{"spacing":27,"hconcat":[
 {"title":{"text":"K"},"width":175,"height":117,"data":{"name":"wt"},"transform":[{"filter":"datum.p==='K'||datum.p==='pb'"}],
  "encoding":{"x":{"field":"d","type":"quantitative","scale":{"domain":[0,14],"nice":false},"axis":{"values":[0,2,4,6,8,10,12,14],"title":"days p.i."}},"y":{"field":"w","type":"quantitative","scale":{"domain":[70,110],"nice":false,"zero":false},"axis":{"values":[70,80,90,100,110],"title":"weight [%]","titlePadding":15}}},
  "layer":[
   {"transform":[{"filter":"datum.e>0"}],"mark":{"type":"errorbar","ticks":{"size":5},"color":"#555","thickness":0.8},"encoding":{"yError":{"field":"e"}}},
   {"mark":{"type":"line","strokeWidth":1},"encoding":{"color":{"field":"s","type":"nominal","legend":null}}},
   {"mark":{"type":"point","size":30,"opacity":1,"strokeWidth":1},"encoding":{"color":{"field":"s","type":"nominal","legend":null},"fill":{"field":"s","type":"nominal","legend":null},"shape":{"field":"s","type":"nominal","legend":null}}}
  ]},
 {"spacing":23,"hconcat":[
  {"title":{"text":"L","dx":-14},"width":175,"height":117,"data":{"name":"sv"},"transform":[{"filter":"datum.p==='L'||datum.p==='ps'"}],
   "encoding":{"x":{"field":"d","type":"quantitative","scale":{"domain":[0,14],"nice":false},"axis":{"values":[0,2,4,6,8,10,12,14],"title":"days p.i."}},"y":{"field":"v","type":"quantitative","scale":{"domain":[0,100],"nice":false},"axis":{"values":[0,20,40,60,80,100],"title":"survival [%]","titlePadding":14}},"color":{"field":"s","type":"nominal","legend":null}},
   "layer":[
    {"transform":[{"filter":"datum.p==='ps'"}],"mark":{"type":"line","interpolate":"step-after","strokeWidth":1}},
    {"transform":[{"filter":"datum.p!=='ps'"}],"mark":{"type":"line","interpolate":"step-after","strokeWidth":1,"opacity":0.6}},
    {"transform":[{"filter":"datum.d>0"}],"mark":{"type":"point","size":30,"opacity":1,"strokeWidth":1},"encoding":{"fill":{"field":"s","type":"nominal","legend":null},"shape":{"field":"s","type":"nominal","legend":null}}}
   ]},
  {"title":{"text":" "},"width":137,"height":117,
   "layer":[
    {"data":{"name":"lg"},"transform":[{"filter":"datum.p==='K'"}],"mark":{"type":"point","size":55,"opacity":1,"strokeWidth":1.6},"encoding":{"x":{"datum":0.55,"type":"quantitative","scale":{"domain":[0,13.7],"nice":false},"axis":null},"y":{"field":"r","type":"quantitative","scale":{"domain":[-0.05,5.05],"reverse":true,"nice":false,"zero":false},"axis":null},"color":{"field":"s","type":"nominal","legend":null},"fill":{"field":"s","type":"nominal","legend":null},"shape":{"field":"s","type":"nominal","legend":null}}},
    {"data":{"name":"lg"},"transform":[{"filter":"datum.p==='K'"}],"mark":{"type":"text","align":"left","baseline":"middle","fontSize":8.5,"color":"#222"},"encoding":{"x":{"datum":2.1,"type":"quantitative"},"y":{"field":"r","type":"quantitative"},"text":{"field":"g"}}},
    {"data":{"name":"lg"},"transform":[{"filter":"datum.p==='K'"}],"mark":{"type":"text","align":"left","baseline":"middle","fontSize":6,"color":"#222","dx":32.5,"dy":-4},"encoding":{"x":{"datum":2.1,"type":"quantitative"},"y":{"field":"r","type":"quantitative"},"text":{"field":"u"}}},
    {"data":{"name":"gp"},"transform":[{"filter":"datum.p==='K'"}],"mark":{"type":"rule","strokeWidth":1.5,"color":"#000","yOffset":-7,"y2Offset":7},"encoding":{"x":{"datum":7.8,"type":"quantitative"},"y":{"field":"f","type":"quantitative"},"y2":{"field":"l"}}},
    {"data":{"name":"gp"},"transform":[{"filter":"datum.p==='K'"}],"mark":{"type":"text","align":"left","baseline":"middle","fontSize":8.5,"color":"#222","dy":11.5},"encoding":{"x":{"datum":8.6,"type":"quantitative"},"y":{"field":"f","type":"quantitative"},"text":{"field":"t"}}},
    {"data":{"name":"gp"},"transform":[{"filter":"datum.p==='K'"}],"mark":{"type":"text","align":"left","baseline":"middle","fontSize":6,"color":"#222","dx":23,"dy":14.5},"encoding":{"x":{"datum":8.6,"type":"quantitative"},"y":{"field":"f","type":"quantitative"},"text":{"field":"u"}}}
   ]}
 ]}
]}
]
}
